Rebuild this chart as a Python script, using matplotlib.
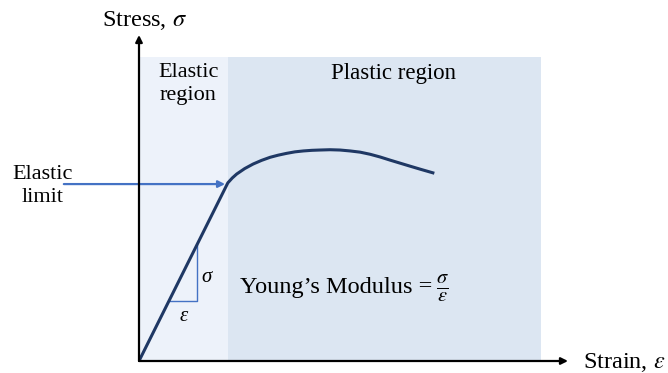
import matplotlib
matplotlib.use("Agg")
import matplotlib.pyplot as plt

plt.rcParams["font.family"] = ["Liberation Serif", "DejaVu Serif"]
plt.rcParams["mathtext.fontset"] = "stix"

# stress-strain curve (arbitrary units, plastic region ends at strain 100)
strain = [0, 22.1, 23.2, 24.3, 26.3, 28.4, 30.5, 32.6, 34.6, 36.7, 38.8, 40.9,
          43.0, 45.0, 47.5, 50.0, 52.5, 55.0, 57.5, 60.0, 62.4, 64.9, 67.4, 70.2, 73.1]
stress = [0, 58.6, 60.2, 61.5, 63.3, 64.8, 66.0, 67.0, 67.7, 68.3, 68.8, 69.1,
          69.3, 69.4, 69.5, 69.4, 69.1, 68.7, 68.0, 67.1, 66.1, 65.1, 64.1, 63.0, 61.9]

elastic_end = 22.1
plastic_end = 100.0
region_top = 100.0

# small slope triangle on the elastic line
tri_x = [7.6, 14.4, 14.4]
tri_y = [19.9, 19.9, 38.0]

elastic_limit = (22.1, 58.2)
arrow_start_x = -18.7

W, H = 668, 373
fig = plt.figure(figsize=(W / 100, H / 100), dpi=100)
ox, oy = 139, 361          # origin in pixels
tip_x, tip_y = 568, 35     # arrow tips in pixels
ax = fig.add_axes([ox / W, (H - oy) / H, (tip_x - ox) / W, (oy - tip_y) / H])
ax.set_xlim(0, (tip_x - ox) / 4.02)
ax.set_ylim(0, (oy - tip_y) / 3.04)
ax.axis("off")

# shaded regions
ax.axvspan(0, elastic_end, ymin=0, ymax=region_top / ax.get_ylim()[1],
           color="#EDF2FA", lw=0, zorder=0)
ax.axvspan(elastic_end, plastic_end, ymin=0, ymax=region_top / ax.get_ylim()[1],
           color="#DCE6F2", lw=0, zorder=0)

# axes arrows
arrow = dict(arrowstyle="-|>", color="black", lw=1.6, mutation_scale=10,
             shrinkA=0, shrinkB=0)
ax.annotate("", xy=(1, 0), xytext=(0, 0), xycoords="axes fraction",
            arrowprops=arrow, zorder=5)
ax.annotate("", xy=(0, 1), xytext=(0, 0), xycoords="axes fraction",
            arrowprops=arrow, zorder=5)

# curve
ax.plot(strain, stress, color="#1F3864", lw=2.2, solid_joinstyle="round", zorder=4)

# slope triangle
ax.plot(tri_x, tri_y, color="#4472C4", lw=1.0, zorder=3)
ax.text(16.9, 27.6, "σ", style="italic", fontsize=15, ha="center", va="center")
ax.text(11.2, 14.6, "ε", style="italic", fontsize=15, ha="center", va="center")

# elastic limit arrow
ax.annotate("", xy=elastic_limit, xytext=(arrow_start_x, elastic_limit[1]),
            arrowprops=dict(arrowstyle="-|>", color="#4472C4", lw=1.6,
                            mutation_scale=10, shrinkA=0, shrinkB=2),
            annotation_clip=False, zorder=3)
ax.text(-24.1, 57.5, "Elastic\nlimit", fontsize=16, ha="center", va="center",
        linespacing=1.3, clip_on=False)

# region labels
ax.text(elastic_end / 2 + 1.2, 91.0, "Elastic\nregion", fontsize=16,
        ha="center", va="center", linespacing=1.3)
ax.text(63.3, 94.7, "Plastic region", fontsize=16.5, ha="center", va="center")

# modulus text
ax.text(25.1, 24.3, "Young’s Modulus =", fontsize=17.5, ha="left", va="center")
ax.text(74.0, 24.0, r"$\frac{\sigma}{\varepsilon}$", fontsize=21,
        ha="left", va="center")

# axis titles
fig.text(144.5 / W, 1 - 20 / H, "Stress, $\\sigma$", fontsize=17.5,
         ha="center", va="center")
fig.text(583 / W, 1 - 362 / H, "Strain, $\\varepsilon$", fontsize=17.5,
         ha="left", va="center")

fig.savefig("out.png", dpi=100)
